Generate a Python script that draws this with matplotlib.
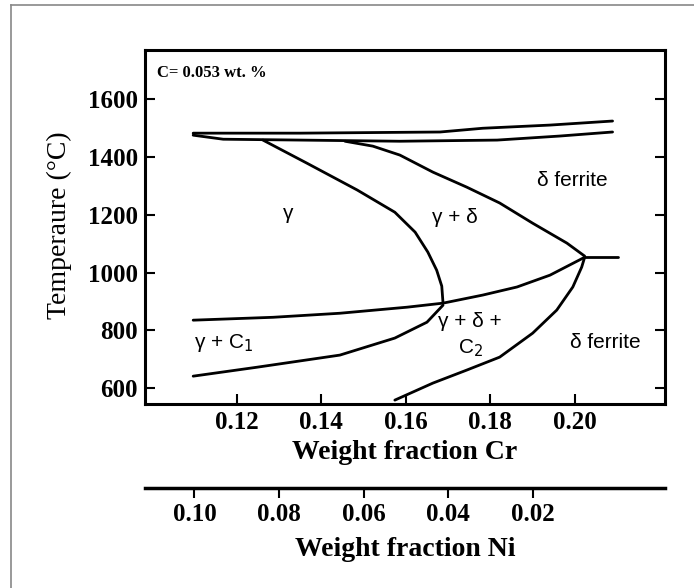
import matplotlib
matplotlib.use("Agg")
import matplotlib.pyplot as plt
from matplotlib.lines import Line2D
import numpy as np

plt.rcParams['font.family'] = ['Liberation Serif', 'DejaVu Serif']

# phase boundaries (x = weight fraction Cr, y = temperature in C)
liq_top_x = [0.1097, 0.1350, 0.1681, 0.1782, 0.1941, 0.2089]
liq_top_y = [1483, 1483, 1487, 1500, 1511, 1525]
liq_low_x = [0.1097, 0.1168, 0.1350, 0.1586, 0.1816, 0.1964, 0.2089]
liq_low_y = [1476, 1462, 1459, 1455, 1459, 1473, 1487]

gam_x = [0.1262, 0.1366, 0.1485, 0.1574, 0.1622, 0.1652, 0.1673, 0.1685, 0.1688]
gam_y = [1459, 1379, 1286, 1209, 1140, 1071, 1008, 953, 894]

del_x = [0.1456, 0.1522, 0.1586, 0.1664, 0.1744, 0.1822, 0.1900, 0.1981, 0.2023]
del_y = [1455, 1438, 1407, 1348, 1296, 1241, 1171, 1102, 1057]

c1_top_x = [0.1097, 0.1286, 0.1444, 0.1603, 0.1688, 0.1782, 0.1863, 0.1941, 0.2023]
c1_top_y = [835, 845, 859, 880, 894, 922, 950, 991, 1053]

c1_low_x = [0.1097, 0.1248, 0.1444, 0.1574, 0.1650, 0.1688]
c1_low_y = [641, 672, 714, 773, 828, 887]

c2_x = [0.1574, 0.1664, 0.1744, 0.1822, 0.1900, 0.1957, 0.1995, 0.2016, 0.2023]
c2_y = [558, 617, 662, 707, 790, 870, 950, 1019, 1053]

tail_x = [0.2023, 0.2101]
tail_y = [1053, 1053]

cr_ticks = [0.12, 0.14, 0.16, 0.18, 0.20]
ni_ticks = [0.10, 0.08, 0.06, 0.04, 0.02]
t_ticks = [600, 800, 1000, 1200, 1400, 1600]

fig = plt.figure(figsize=(6.94, 5.88), dpi=100)
ax = fig.add_axes([0.2089, 0.3129, 0.7493, 0.6020])

for xs, ys in [(liq_top_x, liq_top_y), (liq_low_x, liq_low_y), (gam_x, gam_y),
               (del_x, del_y), (c1_top_x, c1_top_y), (c1_low_x, c1_low_y),
               (c2_x, c2_y), (tail_x, tail_y)]:
    ax.plot(xs, ys, color='black', lw=2.0, solid_capstyle='round')

ax.set_xlim(0.0983, 0.2213)
ax.set_ylim(544.5, 1771)
ax.set_xticks(cr_ticks)
ax.set_xticklabels(['%.2f' % v for v in cr_ticks])
ax.set_yticks(t_ticks)
ax.tick_params(direction='in', length=7, width=1.5, right=True, labelsize=18, pad=5)
for lbl in ax.get_xticklabels() + ax.get_yticklabels():
    lbl.set_fontweight('bold')
for s in ax.spines.values():
    s.set_linewidth(2.2)

ax.set_xlabel('Weight fraction Cr', fontsize=20, fontweight='bold', va='top')
ax.xaxis.set_label_coords(0.5, -0.102)
ax.set_ylabel('Temperaure (°C)', fontsize=20)
ax.yaxis.set_label_coords(-0.14, 0.504)

# second scale for Ni underneath
sec = ax.secondary_xaxis(-0.2373, functions=(lambda c: 0.21 - c, lambda n: 0.21 - n))
sec.set_xticks(ni_ticks)
sec.set_xticklabels(['%.2f' % v for v in ni_ticks])
sec.tick_params(direction='out', length=7, width=1.5, labelsize=18, pad=4)
for lbl in sec.get_xticklabels():
    lbl.set_fontweight('bold')
sec.spines['bottom'].set_linewidth(2.5)
fig.text(0.5836, 1 - 537 / 588, 'Weight fraction Ni', fontsize=20, fontweight='bold',
         ha='center', va='top')

# region labels
ax.text(0.023, 0.935, 'C= 0.053 wt. %', transform=ax.transAxes, fontsize=12,
        fontweight='bold', va='center')
lab = dict(fontsize=15, ha='center', va='center', family=['Liberation Sans', 'DejaVu Sans'])
ax.text(0.1322, 1203, 'γ', **lab)
ax.text(0.1716, 1192, 'γ + δ', **lab)
ax.text(0.1993, 1320, 'δ ferrite', **lab)
ax.text(0.1170, 756, 'γ + C$_1$', **lab)
ax.text(0.1752, 830, 'γ + δ +', **lab)
ax.text(0.1752, 737, 'C$_2$', **lab)
ax.text(0.2071, 759, 'δ ferrite', **lab)

# thin frame of the page scan
fig.add_artist(Line2D([0.0159, 0.0159], [0, 0.9915], transform=fig.transFigure,
                      color='#888888', lw=1.2))
fig.add_artist(Line2D([0.0159, 1.0], [0.9915, 0.9915], transform=fig.transFigure,
                      color='#888888', lw=1.2))

fig.savefig('out.png', dpi=100)
